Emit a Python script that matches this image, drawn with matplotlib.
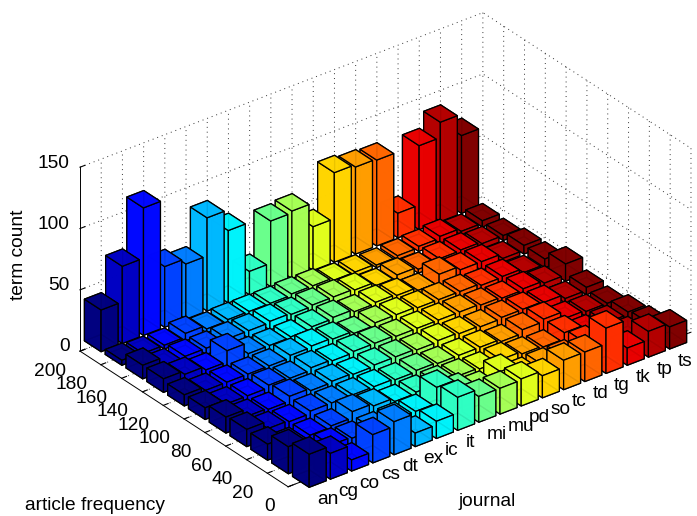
import matplotlib
matplotlib.use("Agg")
import matplotlib.pyplot as plt
import numpy as np

plt.rcParams['font.family'] = ['Liberation Sans', 'DejaVu Sans']
plt.rcParams['grid.linestyle'] = (0, (1, 4))
plt.rcParams['grid.color'] = '#333333'
plt.rcParams['grid.linewidth'] = 0.7

journals = ['an', 'cg', 'co', 'cs', 'dt', 'ex', 'ic', 'it', 'mi', 'mu', 'pd', 'so', 'tc', 'td', 'tg', 'tk', 'tp', 'ts']
freq = [0, 20, 40, 60, 80, 100, 120, 140, 160, 180, 200]

# one row per article frequency, one value per journal
r0 = [27, 21, 9, 23, 27, 11, 14, 27, 21, 21, 22, 18, 24, 24, 37, 14, 21, 18]
r20 = [22, 6, 10, 9, 10, 11, 11, 24, 15, 10, 17, 8, 9, 9, 14, 5, 8, 10]
r40 = [13, 6, 7, 8, 13, 11, 8, 9, 10, 9, 8, 9, 7, 6, 11, 5, 6, 8]
r60 = [14, 8, 7, 9, 9, 9, 9, 8, 9, 8, 8, 8, 6, 9, 11, 5, 4, 4]
r80 = [13, 7, 6, 10, 8, 9, 8, 9, 9, 8, 9, 8, 7, 8, 8, 7, 3.5, 6]
r100 = [9.5, 6, 6, 8, 7, 9, 8, 9, 9, 8, 8, 8, 8, 7, 6, 7, 5, 14]
r120 = [9, 6, 6, 6, 6, 8, 9, 8, 6, 8, 8, 7, 7, 7, 5.4, 6, 2.5, 7]
r140 = [11, 8, 5, 14, 5, 5, 5.4, 7, 8, 6, 7, 6, 3.5, 10, 7, 7, 3, 7]
r160 = [11, 4, 5, 5, 6, 6, 7, 6, 7, 7, 6, 3, 5, 3, 5, 5.5, 4, 4]
r180 = [4, 3, 3, 6, 3, 4, 4, 4, 5, 5, 3, 3, 2, 3, 4, 5.5, 3, 5]
r200 = [34, 63, 104, 49.5, 45, 76, 59, 19, 53.5, 55, 35.6, 73, 71, 70, 20, 68.5, 81, 63.5]
counts = [r0, r20, r40, r60, r80, r100, r120, r140, r160, r180, r200]

fig = plt.figure(figsize=(6.97, 5.16), dpi=100)
ax = fig.add_axes([62.5 / 697, -56.7 / 516, 629 / 697, 629 / 516], projection='3d')
ax.set_proj_type('ortho')
ax.view_init(elev=30, azim=-127.5)
ax.set_box_aspect((508, 342, 212.5))
ax.computed_zorder = False
ax.patch.set_alpha(0)

# old matlab jet, mpl's own is a bit off in the yellows
t = np.linspace(0, 1, len(journals))
red = np.interp(t, [0, .365, .619, .857, 1], [0, 0, 1, 1, .5])
green = np.interp(t, [0, .111, .365, .603, .873, 1], [0, 0, 1, 1, 0, 0])
blue = np.interp(t, [0, .111, .349, .619, 1], [.5, 1, 1, 0, 0])
colors = np.column_stack([red, green, blue])

w = 0.8
dy = 20 * w
# back to front so the bars cover each other properly
z = 10
for i in range(len(freq) - 1, -1, -1):
    for j in range(len(journals) - 1, -1, -1):
        b = ax.bar3d(j + 1 - w / 2, freq[i] - dy / 2, 0, w, dy, counts[i][j],
                     color=colors[j], edgecolor='k', linewidth=0.9, shade=False, alpha=0.92)
        b.set_zorder(z)
        z += 1

ax.set_xlim(0, 19)
ax.set_ylim(0, 200)
ax.set_zlim(0, 150)
ax.set_xticks(range(1, 19))
ax.set_xticklabels(journals)
ax.set_yticks(freq)
ax.set_zticks([0, 50, 100, 150])
ax.tick_params(labelsize=13.8, pad=0)
ax.xaxis.set_tick_params(pad=1)
ax.zaxis.set_tick_params(pad=-4)
plt.setp(ax.get_xticklabels(), ha='left')
plt.setp(ax.get_yticklabels(), ha='right')
plt.setp(ax.get_zticklabels(), ha='right', va='baseline')

for a in (ax.xaxis, ax.yaxis, ax.zaxis):
    a.pane.set_visible(False)
    a.line.set_linewidth(0.7)
    a._axinfo['tick']['inward_factor'] = 0.0
    a._axinfo['tick']['outward_factor'] = 0.15

fig.text(25 / 697, 1 - 505 / 516, 'article frequency', fontsize=13.8, va='center')
fig.text(459 / 697, 1 - 502 / 516, 'journal', fontsize=13.8, va='center')
fig.text(19 / 697, 1 - 255 / 516, 'term count', fontsize=13.8, rotation=90, ha='center', va='center')

fig.savefig('out.png', dpi=100)
